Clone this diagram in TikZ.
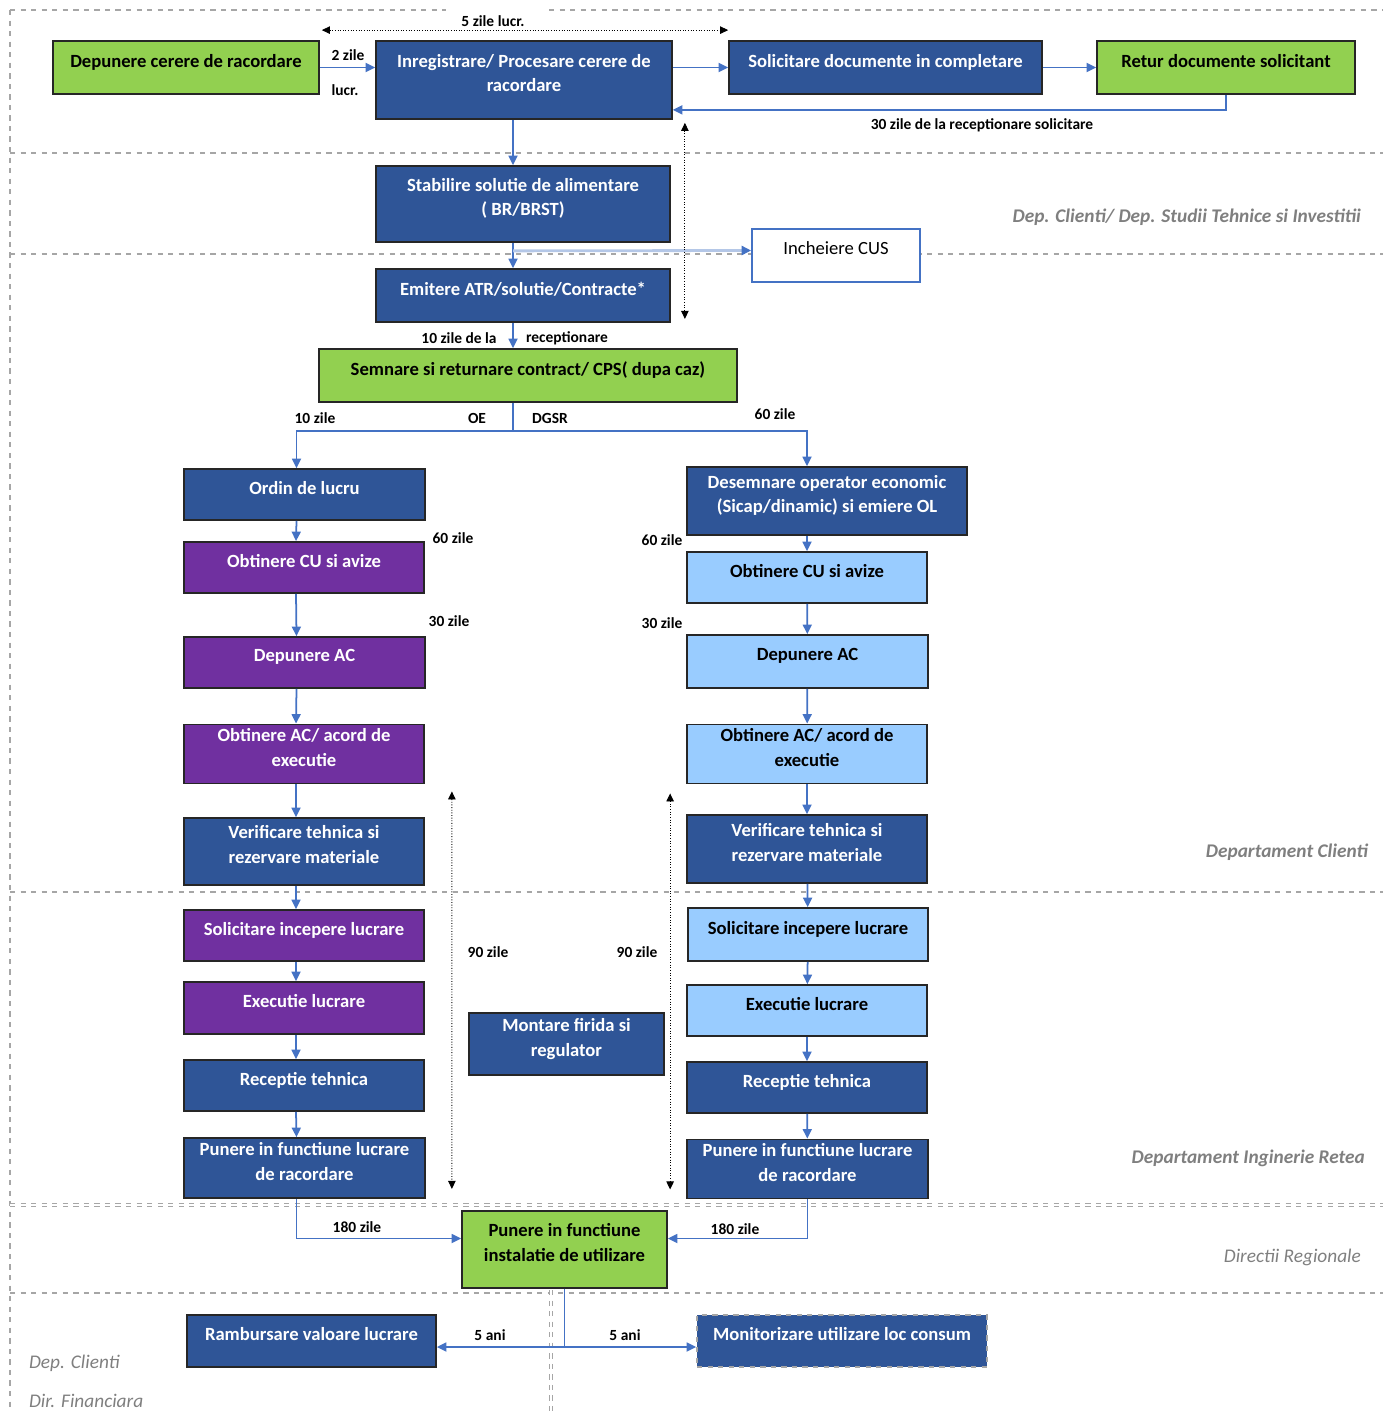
\documentclass[tikz,border=0pt]{standalone}
\usepackage{fontspec}
\setmainfont{Carlito}
\usetikzlibrary{arrows.meta,calc}
\definecolor{taskblue}{HTML}{2F5597}
\definecolor{taskgreen}{HTML}{92D050}
\definecolor{taskpurple}{HTML}{7030A0}
\definecolor{tasklight}{HTML}{99CCFF}
\definecolor{flowblue}{HTML}{4472C4}
\definecolor{flowlight}{HTML}{B4C7E7}
\definecolor{lanegray}{HTML}{A6A6A6}
\definecolor{deptgray}{HTML}{7F7F7F}
\tikzset{
  task/.style={draw=black!85, line width=1pt, align=center, inner sep=2pt,
    font=\bfseries\fontsize{10.6}{14.2}\selectfont,
    execute at end node={\ifvmode\kern8pt\else\vrule depth 8pt width 0pt\fi}},
  box size/.style 2 args={minimum width=#1*0.02cm, minimum height=#2*0.02cm},
  blue task/.style={task, fill=taskblue, text=white},
  green task/.style={task, fill=taskgreen, text=black},
  purple task/.style={task, fill=taskpurple, text=white},
  light task/.style={task, fill=tasklight, text=black},
  flow/.style={draw=flowblue, line width=1pt, -{Triangle[length=1.9mm,width=1.8mm]}},
  timing/.style={draw=black, densely dotted, line width=0.5pt,
    {Triangle[length=1.6mm,width=1.5mm]}-{Triangle[length=1.6mm,width=1.5mm]}},
  lane/.style={draw=lanegray, dashed, line width=0.6pt},
  duration/.style={font=\bfseries\fontsize{8.8}{10}\selectfont, inner sep=1pt},
  dept/.style={text=deptgray, inner sep=1pt, font=\bfseries\itshape\fontsize{11}{13}\selectfont},
  dept light/.style={text=deptgray, inner sep=1pt, font=\itshape\fontsize{11}{13}\selectfont}
}

\begin{document}
\begin{tikzpicture}[x=0.02cm, y=-0.02cm]
  \useasboundingbox (0,0) rectangle (1383,1412);

  % swimlanes
  \draw[lane] (10,10) -- (446,10);
  \draw[lane] (549,10) -- (1383,10);
  \draw[lane] (10,10) -- (10,1412);
  \draw[lane] (10,153) -- (1383,153);
  \draw[lane] (10,254) -- (1383,254);
  \draw[lane, line width=1pt] (10,892) -- (1383,892);
  \draw[lane, double, double distance=1.2pt] (10,1205) -- (1383,1205);
  \draw[lane] (10,1293) -- (1383,1293);
  \draw[lane, double, double distance=1.2pt] (551,1290) -- (551,1412);

  \node[dept, anchor=east] (deptstudii) at (1363,217) {Dep. Clienti/ Dep. Studii Tehnice si Investitii};
  \node[dept, anchor=east] (deptclienti) at (1370,852) {Departament Clienti};
  \node[dept, anchor=east] (deptretea) at (1367,1158) {Departament Inginerie Retea};
  \node[dept light, anchor=east] (deptregio) at (1363,1257) {Directii Regionale};
  \node[dept light, anchor=west] (deptcl) at (27,1363) {Dep. Clienti};
  \node[dept light, anchor=west] (deptfin) at (27,1401) {Dir. Financiara};

  % request handling
  \node[green task, box size={266}{53}] (dep) at (186,67.5) {Depunere cerere de racordare};
  \node[blue task, box size={296}{78}] (inreg) at (524,80) {Inregistrare/ Procesare cerere de\\racordare};
  \node[blue task, box size={313}{53}] (solic) at (885.5,67.5) {Solicitare documente in completare};
  \node[green task, box size={258}{53}] (retur) at (1226,67.5) {Retur documente solicitant};
  \node[blue task, box size={294}{76}] (stab) at (523,204) {Stabilire solutie de alimentare\\( BR/BRST)};
  \node[task, draw=flowblue, fill=white, font=\fontsize{10.6}{14.2}\selectfont, box size={168}{53}] (cus) at (836,255.5) {Incheiere CUS};
  \node[blue task, box size={294}{53}] (emit) at (523,295.5) {Emitere ATR/solutie/Contracte*};
  \node[green task, box size={418}{53}] (semn) at (528,375.5) {Semnare si returnare contract/ CPS( dupa caz)};

  % OE branch
  \node[blue task, box size={241}{51}] (ordin) at (304.5,494.5) {Ordin de lucru};
  \node[purple task, box size={240}{51}] (obtcuA) at (304,567.5) {Obtinere CU si avize};
  \node[purple task, box size={241}{51}] (depacA) at (304.5,662.5) {Depunere AC};
  \node[purple task, box size={240}{58}] (obtacA) at (304,754) {Obtinere AC/ acord de\\executie};
  \node[blue task, box size={240}{67}] (verifA) at (304,851.5) {Verificare tehnica si\\rezervare materiale};
  \node[purple task, box size={240}{51}] (solincA) at (304,935.5) {Solicitare incepere lucrare};
  \node[purple task, box size={240}{52}] (execA) at (304,1008) {Executie lucrare};
  \node[blue task, box size={240}{51}] (recepA) at (304,1085.5) {Receptie tehnica};
  \node[blue task, box size={241}{60}] (punA) at (304.5,1168) {Punere in functiune lucrare\\de racordare};

  % DGSR branch
  \node[blue task, box size={280}{68}] (desemn) at (827,501) {Desemnare operator economic\\(Sicap/dinamic) si emiere OL};
  \node[light task, box size={240}{51}] (obtcuB) at (807,577.5) {Obtinere CU si avize};
  \node[light task, box size={241}{53}] (depacB) at (807.5,661.5) {Depunere AC};
  \node[light task, box size={240}{58}] (obtacB) at (807,754) {Obtinere AC/ acord de\\executie};
  \node[blue task, box size={240}{68}] (verifB) at (807,849) {Verificare tehnica si\\rezervare materiale};
  \node[light task, box size={240}{53}] (solincB) at (808,934.5) {Solicitare incepere lucrare};
  \node[light task, box size={240}{51}] (execB) at (807,1010.5) {Executie lucrare};
  \node[blue task, box size={240}{51}] (recepB) at (807,1087.5) {Receptie tehnica};
  \node[blue task, box size={241}{58}] (punB) at (807.5,1169) {Punere in functiune lucrare\\de racordare};

  \node[blue task, box size={195}{62}] (montare) at (566.5,1044) {Montare firida si\\regulator};
  \node[green task, box size={205}{77}] (punfin) at (564.5,1249.5) {Punere in functiune\\instalatie de utilizare};
  \node[blue task, box size={249}{52}] (ramb) at (311.5,1341) {Rambursare valoare lucrare};
  \node[blue task, draw=lanegray, dashed, box size={290}{52}] (monit) at (842,1341) {Monitorizare utilizare loc consum};

  % connectors
  \draw[flow] (dep) -- (dep.east -| inreg.west);
  \draw[flow] (inreg.east |- solic.west) -- (solic.west);
  \draw[flow] (solic) -- (retur);
  \draw[flow] (retur.south) |- ($(inreg.south east)+(0,-10)$);
  \draw[flow] ([xshift=-0.2cm]stab.north |- inreg.south) -- ([xshift=-0.2cm]stab.north);
  \draw[flow] ([xshift=-0.2cm]stab.south) -- ([xshift=-0.2cm]emit.north);
  \draw[draw=flowlight, line width=1.6pt, -{Triangle[length=1.9mm,width=1.8mm,color=flowblue]}] ($(stab.south)+(-10,8)$) -- ($(cus.west)+(0,-5)$);
  \draw[flow] ([xshift=-0.2cm]emit.south) -- ([xshift=-0.2cm]emit.south |- semn.north);
  \draw[flow] ([xshift=-0.3cm]semn.south) -- ++(0,28) -| ([xshift=-0.16cm]ordin.north);
  \draw[flow] ([xshift=-0.3cm]semn.south) -- ++(0,28) -| (obtcuB.north |- desemn.north);
  \draw[flow] (desemn.south -| obtcuB.north) -- (obtcuB.north);
  \foreach \a/\b in {ordin/obtcuA, obtcuA/depacA, depacA/obtacA, obtacA/verifA,
    verifA/solincA, solincA/execA, execA/recepA, recepA/punA}
    \draw[flow] ([xshift=-0.16cm]\a.south) -- ([xshift=-0.16cm]\b.north);
  \foreach \a/\b in {obtcuB/depacB, depacB/obtacB, obtacB/verifB, verifB/solincB,
    solincB/execB, execB/recepB, recepB/punB}
    \draw[flow] (\a) -- (\b);
  \draw[flow] ([xshift=-0.16cm]punA.south) |- ($(punfin.west)+(0,-11)$);
  \draw[flow] (punB.south) |- ($(punfin.east)+(0,-11)$);
  \draw[flow] (punfin.south) |- ($(ramb.east)+(0,6)$);
  \draw[flow] (punfin.south) |- ($(monit.west)+(0,6)$);

  % deadlines
  \draw[timing] ($(dep.north east)+(2,-10)$) -- ($(solic.north west)+(0,-10)$);
  \draw[timing] ($(inreg.south east)+(12,3)$) -- ($(emit.south east)+(14,-4)$);
  \draw[timing] ($(obtacA.south east)+(27,7)$) -- ($(punA.south east)+(26,-10)$);
  \draw[timing] ($(obtacB.south west)+(-16,9)$) -- ($(punB.south west)+(-16,-10)$);

  \node[duration] (t5zile) at (493,21) {5 zile lucr.};
  \node[duration] (t2zile) at (348,55) {2 zile};
  \node[duration] (t2lucr) at (345,90) {lucr.};
  \node[duration] (t30zile) at (982,125) {30 zile de la receptionare solicitare};
  \node[duration] (t10dela) at (459,338) {10 zile de la};
  \node[duration] (t10rec) at (567,338) {receptionare};
  \node[duration] (t10zile) at (315,418) {10 zile};
  \node[duration] (toe) at (477,418) {OE};
  \node[duration] (tdgsr) at (550,418) {DGSR};
  \node[duration] (t60dgsr) at (775,414) {60 zile};
  \node[duration] (t60A) at (453,538) {60 zile};
  \node[duration] (t30A) at (449,621) {30 zile};
  \node[duration] (t60B) at (662,540) {60 zile};
  \node[duration] (t30B) at (662,623) {30 zile};
  \node[duration] (t90A) at (488,952) {90 zile};
  \node[duration] (t90B) at (637,952) {90 zile};
  \node[duration] (t180A) at (357,1227) {180 zile};
  \node[duration] (t180B) at (735,1229) {180 zile};
  \node[duration] (t5A) at (490,1335) {5 ani};
  \node[duration] (t5B) at (625,1335) {5 ani};
\end{tikzpicture}
\end{document}
